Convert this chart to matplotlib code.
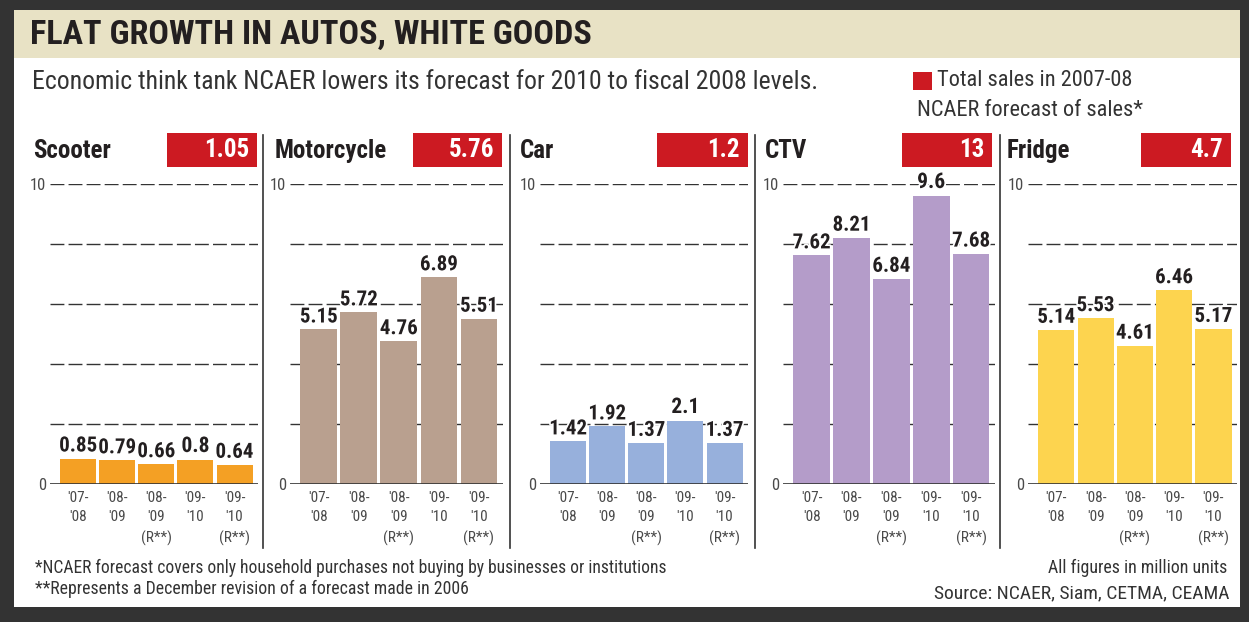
import matplotlib
matplotlib.use("Agg")
import matplotlib.pyplot as plt
from matplotlib.patches import Rectangle
import matplotlib.patheffects as pe

plt.rcParams['font.family'] = ['Roboto Condensed', 'Liberation Sans Narrow', 'Roboto', 'DejaVu Sans']

W, H = 1249, 622

# data
categories = ["'07-\n'08", "'08-\n'09", "'08-\n'09\n(R**)", "'09-\n'10", "'09-\n'10\n(R**)"]
products = ["Scooter", "Motorcycle", "Car", "CTV", "Fridge"]
total_sales = ["1.05", "5.76", "1.2", "13", "4.7"]
scooter = [0.85, 0.79, 0.66, 0.8, 0.64]
motorcycle = [5.15, 5.72, 4.76, 6.89, 5.51]
car = [1.42, 1.92, 1.37, 2.1, 1.37]
ctv = [7.62, 8.21, 6.84, 9.6, 7.68]
fridge = [5.14, 5.53, 4.61, 6.46, 5.17]
series = [scooter, motorcycle, car, ctv, fridge]
value_labels = [["0.85", "0.79", "0.66", "0.8", "0.64"],
                ["5.15", "5.72", "4.76", "6.89", "5.51"],
                ["1.42", "1.92", "1.37", "2.1", "1.37"],
                ["7.62", "8.21", "6.84", "9.6", "7.68"],
                ["5.14", "5.53", "4.61", "6.46", "5.17"]]
bar_colors = ["#F4A024", "#B9A08F", "#97B0DC", "#B49CC9", "#FDD44F"]

RED = "#CC1A22"
INK = "#231F20"
GREY = "#4A4A4A"


def fx(x):
    return x / W


def fy(y):
    return 1 - y / H


fig = plt.figure(figsize=(W / 100, H / 100), dpi=100, facecolor="#333333")
renderer = fig.canvas.get_renderer()


def fit(t, width_px):
    # shrink a text until it is no wider than the reference
    w = t.get_window_extent(renderer).width
    if w > width_px:
        t.set_fontsize(t.get_fontsize() * width_px / w)
    return t


# white panel and beige title band
fig.patches.append(Rectangle((fx(14), fy(607)), fx(1240 - 14), (607 - 10) / H,
                             transform=fig.transFigure, facecolor="white", edgecolor="none", zorder=-2))
fig.patches.append(Rectangle((fx(14), fy(58)), fx(1240 - 14), (58 - 10) / H,
                             transform=fig.transFigure, facecolor="#E8E2C5", edgecolor="none", zorder=-1))

fit(fig.text(fx(30), fy(35), "FLAT GROWTH IN AUTOS, WHITE GOODS", fontsize=25, fontweight="bold",
             color=INK, va="center", ha="left"), 562)
fit(fig.text(fx(32), fy(82), "Economic think tank NCAER lowers its forecast for 2010 to fiscal 2008 levels.",
             fontsize=19, color="#333333", va="center", ha="left"), 786)

# legend
fig.patches.append(Rectangle((fx(913), fy(90)), fx(19), 18 / H, transform=fig.transFigure,
                             facecolor=RED, edgecolor="none"))
fit(fig.text(fx(937), fy(80), "Total sales in 2007-08", fontsize=17, color="#333333", va="center"), 196)
fit(fig.text(fx(917), fy(111), "NCAER forecast of sales*", fontsize=17, color="#333333", va="center"), 226)

# panel geometry in pixels
ax_left = [50, 290, 540, 783, 1028]
ax_right = [258, 503, 748, 995, 1237]
title_x = [33, 275, 520, 765, 1007]
title_w = [80, 125, 38, 48, 70]
box_left = [167, 413, 657, 902, 1141]
box_right = [257, 502, 748, 992, 1231]
separators = [263, 510, 755, 1000]

for sx in separators:
    fig.add_artist(plt.Line2D([fx(sx), fx(sx)], [fy(135), fy(548)], transform=fig.transFigure,
                              color="#333333", lw=1.2))

y_top, y_bottom = 184, 484
for i in range(5):
    ax = fig.add_axes([fx(ax_left[i]), fy(y_bottom), fx(ax_right[i] - ax_left[i]),
                       (y_bottom - y_top) / H])
    ax.set_xlim(-0.72, 4.6)
    ax.set_ylim(0, 10)
    for s in ax.spines.values():
        s.set_visible(False)
    ax.set_facecolor("none")
    for g in [2, 4, 6, 8, 10]:
        ax.axhline(g, color="#333333", lw=1, dashes=(10, 3), zorder=1)
    ax.axhline(0, color="#333333", lw=1.2, zorder=3)
    ax.bar(range(5), series[i], width=0.92, color=bar_colors[i], zorder=2)
    for j, v in enumerate(series[i]):
        t = ax.text(j, v + 0.1, value_labels[i][j], ha="center", va="bottom", fontsize=15.5,
                    fontweight="bold", color=INK, zorder=4,
                    path_effects=[pe.withStroke(linewidth=2.5, foreground="white")])
        fit(t, 38 if len(value_labels[i][j]) == 4 else 29)
    ax.set_xticks(range(5))
    ax.set_xticklabels(categories, fontsize=11, color=GREY, linespacing=1.5, va="top")
    ax.set_yticks([0, 10])
    ax.set_yticklabels(["0", "10"], fontsize=12, color=GREY)
    ax.tick_params(axis="both", length=0, pad=3)
    ax.tick_params(axis="x", pad=5)

    fit(fig.text(fx(title_x[i]), fy(151), products[i], fontsize=18, fontweight="bold",
                 color=INK, va="center", ha="left"), title_w[i])
    fig.patches.append(Rectangle((fx(box_left[i]), fy(167)), fx(box_right[i] - box_left[i]),
                                 34 / H, transform=fig.transFigure, facecolor=RED, edgecolor="none"))
    fit(fig.text(fx(box_right[i] - 8), fy(150), total_sales[i], fontsize=18, fontweight="bold",
                 color="white", va="center", ha="right"), 46)

# footnotes
fit(fig.text(fx(35), fy(568), "*NCAER forecast covers only household purchases not buying by businesses or institutions",
             fontsize=13, color="#333333", va="center"), 628)
fit(fig.text(fx(35), fy(589), "**Represents a December revision of a forecast made in 2006",
             fontsize=13, color="#333333", va="center"), 430)
fit(fig.text(fx(1227), fy(568), "All figures in million units", fontsize=13.5, color="#333333",
             va="center", ha="right"), 180)
fit(fig.text(fx(1229), fy(593), "Source: NCAER, Siam, CETMA, CEAMA", fontsize=15, color="#333333",
             va="center", ha="right"), 295)

fig.savefig("out.png", dpi=100, facecolor=fig.get_facecolor())
